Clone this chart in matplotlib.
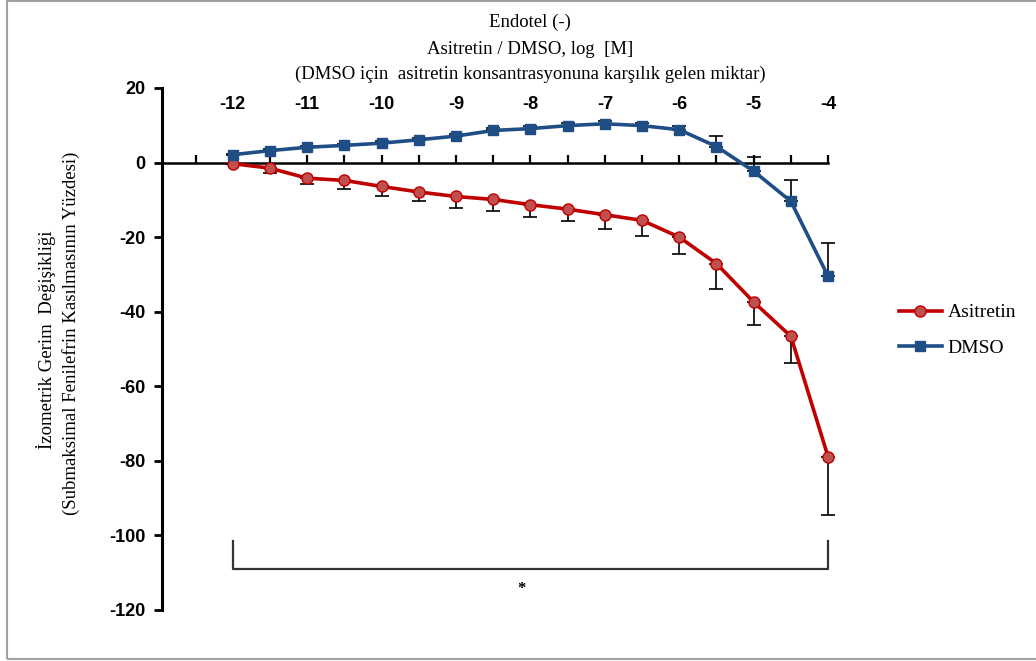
import matplotlib.pyplot as plt
import numpy as np
from matplotlib.patches import Rectangle

plt.rcParams['axes.unicode_minus'] = False

# Data (log molar concentration, % change in isometric tension)
log_conc = np.array([-12, -11.5, -11, -10.5, -10, -9.5, -9, -8.5, -8,
                     -7.5, -7, -6.5, -6, -5.5, -5, -4.5, -4])
asitretin = np.array([-0.3, -1.5, -4.2, -4.8, -6.4, -7.9, -9.1, -9.9, -11.3,
                      -12.5, -14.0, -15.5, -20.0, -27.1, -37.4, -46.6, -78.9])
asitretin_err = np.array([0.0, 1.3, 1.5, 2.3, 2.7, 2.5, 3.0, 3.0, 3.2,
                          3.1, 3.8, 4.3, 4.6, 6.7, 6.3, 7.1, 15.7])
dmso = np.array([2.1, 3.2, 4.1, 4.6, 5.2, 6.1, 7.1, 8.6, 9.1,
                 9.9, 10.4, 9.9, 8.8, 4.3, -2.3, -10.4, -30.5])
dmso_err = np.array([0.3, 0.4, 0.4, 0.5, 0.5, 0.5, 0.6, 0.6, 0.7,
                     0.7, 0.8, 0.8, 0.9, 2.7, 3.9, 5.8, 9.0])
x_tick_labels = ['-12', '-11', '-10', '-9', '-8', '-7', '-6', '-5', '-4']
x_label_pos = [-12, -11, -10, -9, -8, -7, -6, -5, -4]

color_red = '#C00000'
color_red_face = '#C0504D'
color_blue = '#1F4E87'

fig = plt.figure(figsize=(10.36, 6.61), dpi=100)
ax = fig.add_axes([0.1564, 0.0772, 0.6429, 0.7897])

# Error bars (one-sided, like the original)
ax.errorbar(log_conc, asitretin, yerr=[asitretin_err, np.zeros_like(asitretin_err)],
            fmt='none', ecolor='black', elinewidth=1.2, capsize=5, capthick=1.2, zorder=2)
ax.errorbar(log_conc, dmso, yerr=[np.zeros_like(dmso_err), dmso_err],
            fmt='none', ecolor='black', elinewidth=1.2, capsize=5, capthick=1.2, zorder=2)

ax.plot(log_conc, asitretin, color=color_red, linewidth=2.6, marker='o', markersize=8,
        markerfacecolor=color_red_face, markeredgecolor=color_red, markeredgewidth=1,
        label='Asitretin', zorder=3, clip_on=False)
ax.plot(log_conc, dmso, color=color_blue, linewidth=2.6, marker='s', markersize=7.5,
        markerfacecolor=color_blue, markeredgecolor=color_blue,
        label='DMSO', zorder=3, clip_on=False)
for art in ax.collections + ax.lines:
    art.set_clip_on(False)

ax.set_xlim(-12.95, -4)
ax.set_ylim(-120, 20)

# Spines
ax.spines['top'].set_visible(False)
ax.spines['right'].set_visible(False)
ax.spines['left'].set_linewidth(2.2)
ax.spines['bottom'].set_position(('data', 0))
ax.spines['bottom'].set_linewidth(1.8)
ax.spines['left'].set_zorder(1)
ax.spines['bottom'].set_zorder(1)

ax.set_yticks(np.arange(-120, 21, 20))
ax.tick_params(axis='y', direction='out', length=6, width=2, labelsize=13, pad=6)
for lbl in ax.get_yticklabels():
    lbl.set_fontweight('bold')
    lbl.set_fontfamily('Liberation Sans')

ax.set_xticks(np.arange(-12.5, -3.9, 0.5))
ax.tick_params(axis='x', direction='in', length=6, width=1.6, labelbottom=False)

for pos, lab in zip(x_label_pos, x_tick_labels):
    ax.text(pos, 15.5, lab, ha='center', va='center', fontsize=13, fontweight='bold',
            family='Liberation Sans')

# Titles at the top
title_font = dict(family='Liberation Serif', fontsize=13.5, ha='center', va='center')
fig.text(530 / 1036, 1 - 22 / 661, 'Endotel (-)', **title_font)
fig.text(530 / 1036, 1 - 50 / 661, 'Asitretin / DMSO, log  [M]', **title_font)
fig.text(530 / 1036, 1 - 74 / 661,
         '(DMSO için  asitretin konsantrasyonuna karşılık gelen miktar)', **title_font)

# Y axis label (two lines)
fig.text(46 / 1036, 1 - 340 / 661, 'İzometrik Gerim  Değişikliği', rotation=90,
         family='Liberation Serif', fontsize=13.5, ha='center', va='center')
fig.text(71 / 1036, 1 - 333 / 661, '(Submaksimal Fenilefrin Kasılmasının Yüzdesi)', rotation=90,
         family='Liberation Serif', fontsize=13.5, ha='center', va='center')

# Significance bracket
ax.plot([-12, -12, -4, -4], [-101.5, -109, -109, -101.5], color='#333333', linewidth=1.6,
        clip_on=False)
ax.text(-8.12, -114.5, '*', ha='center', va='center', fontsize=12, family='Liberation Serif',
        fontweight='bold')

leg = ax.legend(loc='center left', bbox_to_anchor=(1.08, 0.536), frameon=False,
                prop={'family': 'Liberation Serif', 'size': 14}, handlelength=2.2,
                labelspacing=0.9, handletextpad=0.3)

# Chart area border
fig.patches.append(Rectangle((7 / 1036, 2 / 661), 1.2, 1 - 3 / 661, transform=fig.transFigure,
                             fill=False, edgecolor='#A0A0A0', linewidth=1.5))

plt.savefig('out.png', dpi=100)
